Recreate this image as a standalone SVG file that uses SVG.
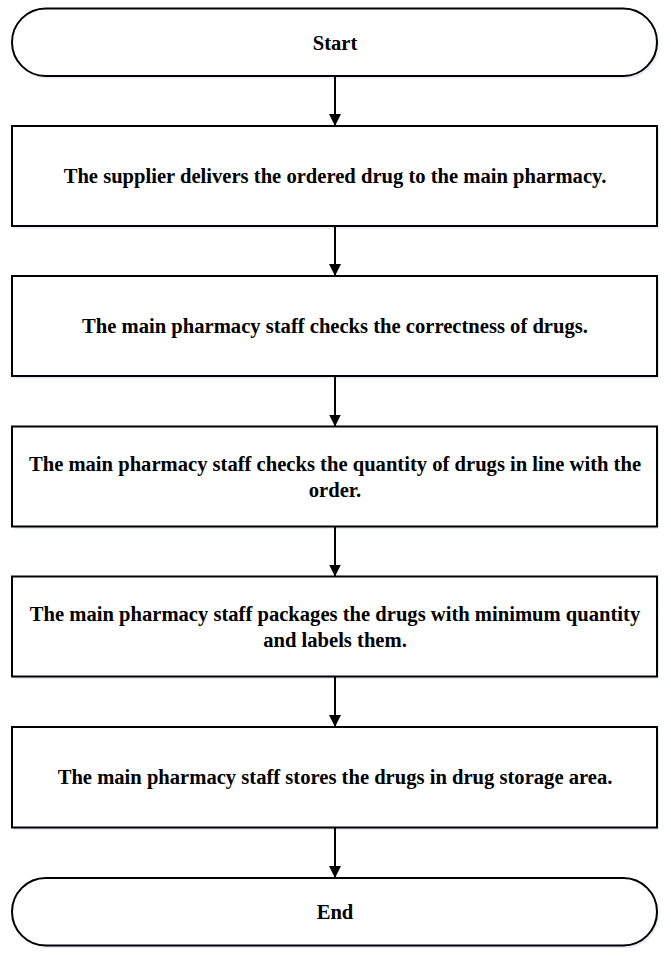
<svg xmlns="http://www.w3.org/2000/svg" width="671" height="956" viewBox="0 0 671 956">
<style>
.shape{fill:#ffffff;stroke:#000000;stroke-width:2}
.shadow{fill:#e3ebf4;stroke:none}
.lbl{font-family:"Liberation Serif","Times New Roman",serif;font-weight:bold;font-size:20.6px;fill:#000000;text-anchor:middle}
.conn{stroke:#000000;stroke-width:2;fill:none;marker-end:url(#arr)}
</style>
<defs>
<marker id="arr" markerWidth="12" markerHeight="12" refX="12" refY="6" orient="auto" markerUnits="userSpaceOnUse">
<path d="M0,0 L12,6 L0,12 Z" fill="#000000"/>
</marker>
</defs>
<rect width="671" height="956" fill="#ffffff"/>
<g id="start">
<rect class="shadow" x="14" y="11" width="645" height="67.5" rx="33.75"/>
<rect class="shape" x="12" y="8.5" width="645" height="67.5" rx="33.75"/>
<text class="lbl" x="335" y="49.5">Start</text>
</g>
<g id="step1">
<rect class="shadow" x="14" y="128.5" width="645" height="100"/>
<rect class="shape" x="12" y="126" width="645" height="100"/>
<text class="lbl" x="335" y="183">The supplier delivers the ordered drug to the main pharmacy.</text>
</g>
<g id="step2">
<rect class="shadow" x="14" y="278.5" width="645" height="100"/>
<rect class="shape" x="12" y="276" width="645" height="100"/>
<text class="lbl" x="335" y="333">The main pharmacy staff checks the correctness of drugs.</text>
</g>
<g id="step3">
<rect class="shadow" x="14" y="429" width="645" height="100"/>
<rect class="shape" x="12" y="426.5" width="645" height="100"/>
<text class="lbl" x="335" y="470.5">The main pharmacy staff checks the quantity of drugs in line with the</text>
<text class="lbl" x="335" y="497">order.</text>
</g>
<g id="step4">
<rect class="shadow" x="14" y="579" width="645" height="100"/>
<rect class="shape" x="12" y="576.5" width="645" height="100"/>
<text class="lbl" x="335" y="620.5">The main pharmacy staff packages the drugs with minimum quantity</text>
<text class="lbl" x="335" y="647">and labels them.</text>
</g>
<g id="step5">
<rect class="shadow" x="14" y="729.5" width="645" height="100.5"/>
<rect class="shape" x="12" y="727" width="645" height="100.5"/>
<text class="lbl" x="335" y="784">The main pharmacy staff stores the drugs in drug storage area.</text>
</g>
<g id="end">
<rect class="shadow" x="14" y="880.5" width="645" height="67.5" rx="33.75"/>
<rect class="shape" x="12" y="878" width="645" height="67.5" rx="33.75"/>
<text class="lbl" x="335" y="918.5">End</text>
</g>
<g id="connectors">
<line class="conn" x1="335" y1="76" x2="335" y2="126"/>
<line class="conn" x1="335" y1="226" x2="335" y2="276"/>
<line class="conn" x1="335" y1="376" x2="335" y2="426.5"/>
<line class="conn" x1="335" y1="526.5" x2="335" y2="576.5"/>
<line class="conn" x1="335" y1="676.5" x2="335" y2="727"/>
<line class="conn" x1="335" y1="827.5" x2="335" y2="878"/>
</g>
</svg>
